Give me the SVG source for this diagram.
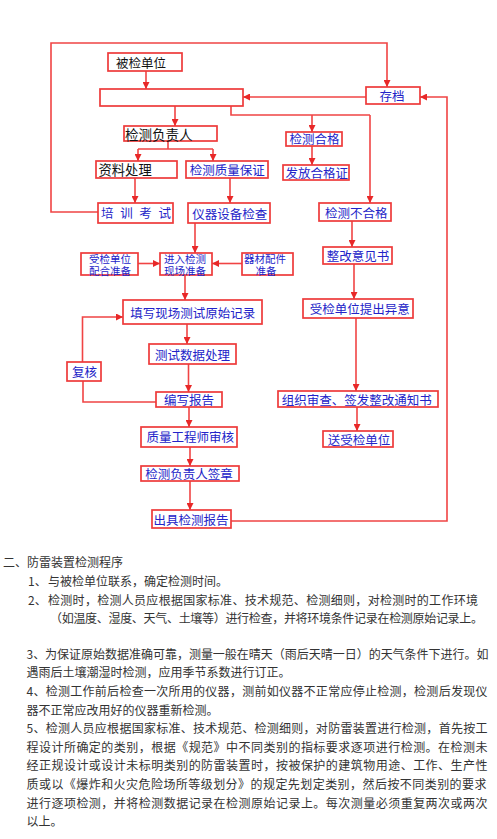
<svg xmlns="http://www.w3.org/2000/svg" width="497" height="839" viewBox="0 0 497 839">
<defs>
<marker id="ah" viewBox="0 0 8 8" refX="8" refY="4" markerWidth="7" markerHeight="7" markerUnits="userSpaceOnUse" orient="auto">
<path d="M0,0 L8,4 L0,8 z" fill="#e82828"/>
</marker>
</defs>
<style>
.box{fill:#ffffff;stroke:#ee3a3a;stroke-width:1.7}
.c{fill:none;stroke:#f04444;stroke-width:1.6}
.a{marker-end:url(#ah)}
.t{font-family:"Noto Sans CJK SC","Noto Sans",sans-serif;font-size:12.5px;fill:#2323c8;text-anchor:middle;dominant-baseline:central}
.k{fill:#111111}
.s{font-size:10.5px}
.p{font-family:"Noto Sans CJK SC","Noto Sans",sans-serif;font-size:12px;fill:#333333}
</style>
<rect width="497" height="839" fill="#ffffff"/>
<g id="connectors">
<path class="c a" d="M146,71 V89"/>
<path class="c a" d="M175,106 V126"/>
<path class="c" d="M231,106 V115 H370"/>
<path class="c a" d="M370,115 V203"/>
<path class="c a" d="M312,115 V132"/>
<path class="c a" d="M366,97 H243"/>
<path class="c a" d="M98,212 H51 V43 H387 V87"/>
<path class="c" d="M168,141 V149 M138,149 H213"/>
<path class="c a" d="M138,149 V161"/>
<path class="c a" d="M213,149 V161"/>
<path class="c a" d="M135,178 V203"/>
<path class="c a" d="M230,178 V203"/>
<path class="c a" d="M312,146 V165"/>
<path class="c a" d="M195,223 V253"/>
<path class="c a" d="M138,263.5 H160"/>
<path class="c a" d="M242,263.5 H212"/>
<path class="c a" d="M185,275 V300"/>
<path class="c a" d="M187,324 V344"/>
<path class="c a" d="M82.5,362 V317 H123"/>
<path class="c" d="M156,402 H83 V381"/>
<path class="c a" d="M188.5,364 V392"/>
<path class="c a" d="M189,407 V427"/>
<path class="c a" d="M190,447 V466"/>
<path class="c a" d="M190,481 V510"/>
<path class="c a" d="M231,521 H447 V97 H420"/>
<path class="c a" d="M352,221 V247"/>
<path class="c a" d="M354,264 V299"/>
<path class="c a" d="M356,318 V391"/>
<path class="c a" d="M357,407 V431"/>
</g>
<g id="n-beijian"><rect class="box" x="108" y="53" width="74" height="18"/><text class="t k" x="141" y="62">被检单位</text></g>
<g id="n-center"><rect class="box" x="100" y="89" width="143" height="17"/></g>
<g id="n-cundang"><rect class="box" x="366" y="87" width="54" height="17"/><text class="t" x="392" y="95.5">存档</text></g>
<g id="n-fuzeren"><rect class="box" x="124" y="126" width="93" height="15"/><text class="t k" x="125" y="133.5" style="text-anchor:start;font-size:13.5px">检测负责人</text></g>
<g id="n-ziliao"><rect class="box" x="96" y="161" width="81" height="17"/><text class="t k" x="98.5" y="169.7" style="text-anchor:start;font-size:13.3px">资料处理</text></g>
<g id="n-zhiliang"><rect class="box" x="186" y="161" width="82" height="17"/><text class="t" x="227.3" y="169.7">检测质量保证</text></g>
<g id="n-peixun"><rect class="box" x="98" y="203" width="75" height="20"/><text class="t" x="101" y="212.7" style="text-anchor:start" textLength="70" lengthAdjust="spacing">培训考试</text></g>
<g id="n-yiqi"><rect class="box" x="188" y="203" width="82" height="20"/><text class="t" x="229.7" y="213">仪器设备检查</text></g>
<g id="n-hege"><rect class="box" x="286" y="132" width="56" height="14"/><text class="t" x="314.5" y="138.8">检测合格</text></g>
<g id="n-fafang"><rect class="box" x="283" y="165" width="66" height="15"/><text class="t" x="316.7" y="172.5">发放合格证</text></g>
<g id="n-buhege"><rect class="box" x="319" y="203" width="72" height="18"/><text class="t" x="356.3" y="212">检测不合格</text></g>
<g id="n-zhenggai"><rect class="box" x="323" y="247" width="69" height="17"/><text class="t" x="358" y="255.5">整改意见书</text></g>
<g id="n-yiyi"><rect class="box" x="303" y="299" width="110" height="19"/><text class="t" x="359.7" y="308.5">受检单位提出异意</text></g>
<g id="n-zuzhi"><rect class="box" x="278" y="391" width="160" height="16"/><text class="t" x="356.7" y="399">组织审查、签发整改通知书</text></g>
<g id="n-song"><rect class="box" x="323" y="431" width="70" height="16"/><text class="t" x="359" y="439">送受检单位</text></g>
<g id="n-peihe"><rect class="box" x="81" y="253" width="57" height="22"/><text class="t s"><tspan x="110" y="258.2">受检单位</tspan><tspan x="110" y="269.6">配合准备</tspan></text></g>
<g id="n-jinru"><rect class="box" x="160" y="253" width="52" height="22"/><text class="t s"><tspan x="185" y="258.2">进入检测</tspan><tspan x="185" y="269.6">现场准备</tspan></text></g>
<g id="n-qicai"><rect class="box" x="242" y="253" width="51" height="22"/><text class="t s"><tspan x="265" y="258.2">器材配件</tspan><tspan x="266" y="269.6">准备</tspan></text></g>
<g id="n-tianxie"><rect class="box" x="123" y="300" width="139" height="24"/><text class="t" x="192.7" y="312">填写现场测试原始记录</text></g>
<g id="n-shuju"><rect class="box" x="149" y="344" width="87" height="20"/><text class="t" x="192.5" y="354">测试数据处理</text></g>
<g id="n-fuhe"><rect class="box" x="67" y="362" width="34" height="19"/><text class="t" x="84.5" y="371.5">复核</text></g>
<g id="n-bianxie"><rect class="box" x="156" y="392" width="66" height="15"/><text class="t" x="189" y="399.5">编写报告</text></g>
<g id="n-gongchengshi"><rect class="box" x="141" y="427" width="96" height="20"/><text class="t" x="190.3" y="436.7">质量工程师审核</text></g>
<g id="n-qianzhang"><rect class="box" x="141" y="466" width="98" height="15"/><text class="t" x="189" y="473.5">检测负责人签章</text></g>
<g id="n-chuju"><rect class="box" x="152" y="510" width="79" height="18"/><text class="t" x="191" y="519">出具检测报告</text></g>
<g id="body-text">
<text class="p" x="3" y="567">二、防雷装置检测程序</text>
<text class="p" x="28" y="586">1、</text>
<text class="p" x="48" y="586">与被检单位联系，确定检测时间。</text>
<text class="p" x="28" y="604.5">2、</text>
<text class="p" x="48" y="604.5" textLength="430" lengthAdjust="spacing">检测时，检测人员应根据国家标准、技术规范、检测细则，对检测时的工作环境</text>
<text class="p" x="50" y="623" textLength="433" lengthAdjust="spacing">（如温度、湿度、天气、土壤等）进行检查，并将环境条件记录在检测原始记录上。</text>
<text class="p" x="26.5" y="658.5" textLength="462" lengthAdjust="spacing">3、为保证原始数据准确可靠，测量一般在晴天（雨后天晴一日）的天气条件下进行。如</text>
<text class="p" x="26.5" y="677">遇雨后土壤潮湿时检测，应用季节系数进行订正。</text>
<text class="p" x="26.5" y="696" textLength="461" lengthAdjust="spacing">4、检测工作前后检查一次所用的仪器，测前如仪器不正常应停止检测，检测后发现仪</text>
<text class="p" x="26.5" y="714.5">器不正常应改用好的仪器重新检测。</text>
<text class="p" x="26.5" y="733" textLength="461" lengthAdjust="spacing">5、检测人员应根据国家标准、技术规范、检测细则，对防雷装置进行检测，首先按工</text>
<text class="p" x="26.5" y="751.5" textLength="461" lengthAdjust="spacing">程设计所确定的类别，根据《规范》中不同类别的指标要求逐项进行检测。在检测未</text>
<text class="p" x="26.5" y="770" textLength="461" lengthAdjust="spacing">经正规设计或设计未标明类别的防雷装置时，按被保护的建筑物用途、工作、生产性</text>
<text class="p" x="26.5" y="789" textLength="460" lengthAdjust="spacing">质或以《爆炸和火灾危险场所等级划分》的规定先划定类别，然后按不同类别的要求</text>
<text class="p" x="26.5" y="807.5" textLength="461" lengthAdjust="spacing">进行逐项检测，并将检测数据记录在检测原始记录上。每次测量必须重复两次或两次</text>
<text class="p" x="26.5" y="826">以上。</text>
</g>
</svg>
